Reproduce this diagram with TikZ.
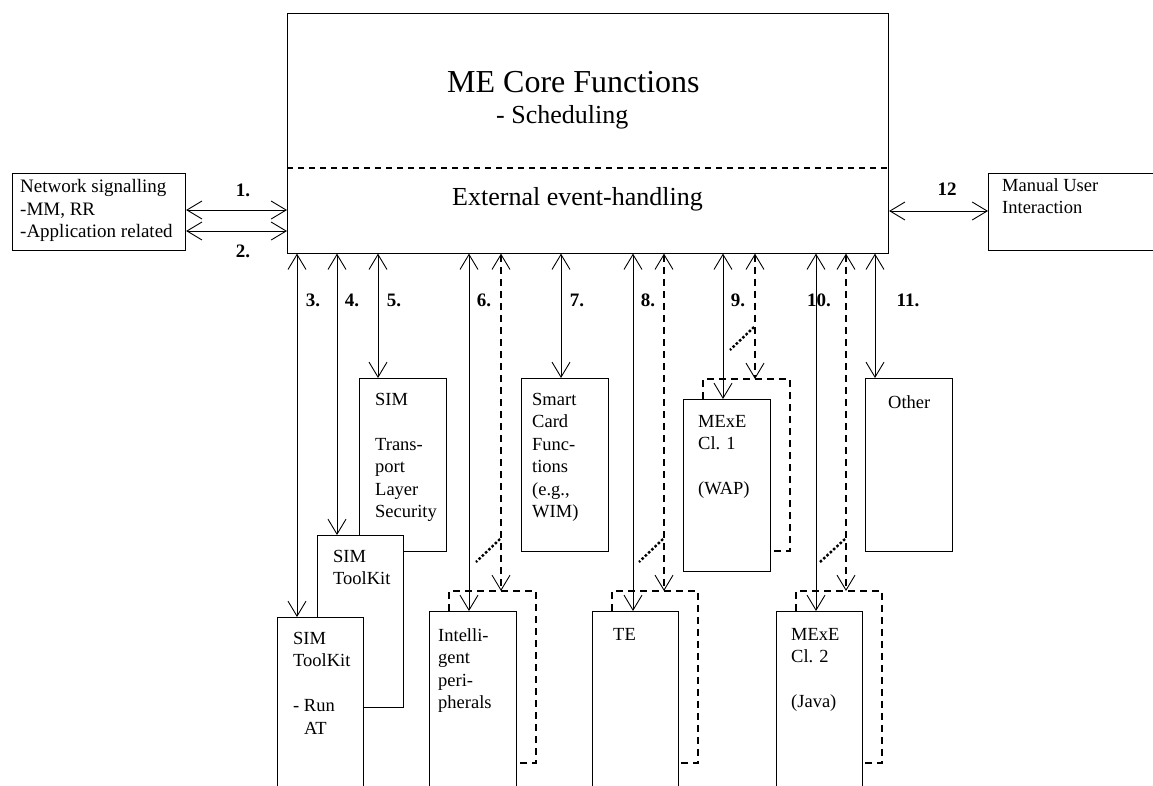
\documentclass[tikz,border=0pt]{standalone}
\usepackage{fontspec}
\setmainfont{Liberation Serif}
\usetikzlibrary{arrows.meta}
\tikzset{
  blk/.style={draw, fill=white, line width=1.1pt, inner sep=0pt, anchor=north west},
  txt/.style={anchor=north west, inner sep=0pt, align=left, font=\fontsize{18.5}{22.5}\selectfont},
  numlbl/.style={inner sep=0pt, font=\fontsize{19}{22}\selectfont\bfseries},
  barb/.tip={Straight Barb[length=15pt,width=18pt,line width=0.9pt]},
  conn/.style={line width=1pt, barb-barb},
  dconn/.style={conn, line width=1.25pt, dash pattern=on 7pt off 5pt},
  shadowline/.style={line width=1.2pt, dash pattern=on 7pt off 5pt},
  hint/.style={line width=2.4pt, dash pattern=on 2.5pt off 2pt},
}
\begin{document}
\begin{tikzpicture}[x=1pt,y=-1pt]
\useasboundingbox (0,0) rectangle (1153,785);
\clip (0,0) rectangle (1153,785);

% main box
\node[blk, minimum width=601pt, minimum height=240pt] (main) at (287,12.5) {};
\coordinate (sepy) at (0,168);
\draw[line width=1.1pt, dash pattern=on 6pt off 5pt] (main.west |- sepy) -- (main.east |- sepy);
\node[anchor=base west, inner sep=0pt, font=\fontsize{32}{36}\selectfont] (t1) at (447,92) {ME Core Functions};
\node[anchor=base west, inner sep=0pt, font=\fontsize{26}{30}\selectfont] (t2) at (496,123) {- Scheduling};
\node[anchor=base west, inner sep=0pt, font=\fontsize{26}{30}\selectfont] (t3) at (452,205) {External event-handling};

% side boxes
\node[blk, minimum width=173pt, minimum height=77pt] (net) at (12,173) {};
\node[txt, font=\fontsize{19}{22.5}\selectfont] (nettxt) at (20,179.5) {Network signalling\\-MM, RR\\-Application related};
\node[blk, minimum width=175pt, minimum height=77pt] (man) at (988,173) {};
\node[txt] (mantxt) at (1002,178) {Manual User\\Interaction};

\coordinate (y1) at (0,210);
\coordinate (y2) at (0,231);
\coordinate (y12) at (0,211);
\draw[conn] (net.east |- y1) -- (main.west |- y1);
\draw[conn] (net.east |- y2) -- (main.west |- y2);
\draw[conn] (main.east |- y12) -- (man.west |- y12);

% shadow (dashed) boxes
\node[blk, draw=none, fill=none, minimum width=87pt, minimum height=175pt] (ip) at (429,611) {};
\node[blk, draw=none, fill=none, minimum width=86pt, minimum height=175pt] (te) at (592,611) {};
\node[blk, draw=none, fill=none, minimum width=87pt, minimum height=172pt] (m1) at (683,399) {};
\node[blk, draw=none, fill=none, minimum width=86pt, minimum height=175pt] (m2) at (776,611) {};
\draw[shadowline] ([xshift=20pt]ip.north west) -- ++(0,-20) -- ++(87,0) -- ++(0,172) -- ++(-20,0);
\draw[shadowline] ([xshift=20pt]te.north west) -- ++(0,-20) -- ++(86,0) -- ++(0,172) -- ++(-20,0);
\draw[shadowline] ([xshift=20pt]m1.north west) -- ++(0,-20) -- ++(87,0) -- ++(0,172) -- ++(-20,0);
\draw[shadowline] ([xshift=20pt]m2.north west) -- ++(0,-20) -- ++(86,0) -- ++(0,172) -- ++(-20,0);

% lower boxes
\node[blk, minimum width=87pt, minimum height=173pt] (sim) at (359,378) {};
\node[blk, minimum width=86pt, minimum height=172pt] (stk) at (317,535) {};
\node[blk, minimum width=86pt, minimum height=175pt] (rat) at (277,617) {};
\node[blk, minimum width=87pt, minimum height=175pt] (ipb) at (429,611) {};
\node[blk, minimum width=87pt, minimum height=173pt] (sc) at (521,378) {};
\node[blk, minimum width=86pt, minimum height=175pt] (teb) at (592,611) {};
\node[blk, minimum width=87pt, minimum height=172pt] (m1b) at (683,399) {};
\node[blk, minimum width=86pt, minimum height=175pt] (m2b) at (776,611) {};
\node[blk, minimum width=87pt, minimum height=173pt] (oth) at (865,378) {};

% box texts
\node[txt] (simtxt) at (375,393) {SIM\\[22.5pt]Trans-\\port\\Layer\\Security};
\node[txt] (stktxt) at (333,550) {SIM\\ToolKit};
\node[txt] (rattxt) at (293,632) {SIM\\ToolKit\\[22.5pt]- Run\\\hspace*{10.8pt}AT};
\node[txt] (iptxt) at (438,628) {Intelli-\\gent\\peri-\\pherals};
\node[txt] (sctxt) at (532,393) {Smart\\Card\\Func-\\tions\\(e.g.,\\WIM)};
\node[txt] (tetxt) at (613,628) {TE};
\node[txt] (m1txt) at (698,415) {MExE\\Cl. 1\\[22.5pt](WAP)};
\node[txt] (m2txt) at (791,628) {MExE\\Cl. 2\\[22.5pt](Java)};
\node[txt] (othtxt) at (888,395) {Other};

% vertical connectors
\coordinate (a3) at ([xshift=20pt]rat.north west);
\coordinate (a4) at ([xshift=20pt]stk.north west);
\coordinate (a5) at ([xshift=19pt]sim.north west);
\coordinate (a6) at ([xshift=40pt]ipb.north west);
\coordinate (b6) at ([xshift=72pt,yshift=20pt]ipb.north west);
\coordinate (a7) at ([xshift=40pt]sc.north west);
\coordinate (a8) at ([xshift=41pt]teb.north west);
\coordinate (b8) at ([xshift=72pt,yshift=20pt]teb.north west);
\coordinate (a9) at ([xshift=40pt]m1b.north west);
\coordinate (b9) at ([xshift=72pt,yshift=20pt]m1b.north west);
\coordinate (a10) at ([xshift=40pt]m2b.north west);
\coordinate (b10) at ([xshift=70pt,yshift=20pt]m2b.north west);
\coordinate (a11) at ([xshift=10pt]oth.north west);

\foreach \p in {a3,a4,a5,a6,a7,a8,a9,a10,a11}
  \draw[conn] (\p |- main.south) -- (\p);
\foreach \p in {b6,b8,b9,b10}
  \draw[dconn] (\p |- main.south) -- (\p);

% dotted hints
\draw[hint] ([xshift=71pt,yshift=72pt]ipb.north west) -- ([xshift=47pt,yshift=49pt]ipb.north west);
\draw[hint] ([xshift=71pt,yshift=72pt]teb.north west) -- ([xshift=47pt,yshift=49pt]teb.north west);
\draw[hint] ([xshift=71pt,yshift=72pt]m1b.north west) -- ([xshift=47pt,yshift=49pt]m1b.north west);
\draw[hint] ([xshift=69pt,yshift=72pt]m2b.north west) -- ([xshift=44pt,yshift=49pt]m2b.north west);

% numbers
\node[numlbl] (n1) at (243,190) {1.};
\node[numlbl] (n2) at (243,251) {2.};
\node[numlbl] (n12) at (947,189) {12};
\node[numlbl] (n3) at (313,300) {3.};
\node[numlbl] (n4) at (352,300) {4.};
\node[numlbl] (n5) at (394,300) {5.};
\node[numlbl] (n6) at (484,300) {6.};
\node[numlbl] (n7) at (577,300) {7.};
\node[numlbl] (n8) at (648,300) {8.};
\node[numlbl] (n9) at (738,300) {9.};
\node[numlbl] (n10) at (819,300) {10.};
\node[numlbl] (n11) at (908,300) {11.};
\end{tikzpicture}
\end{document}
